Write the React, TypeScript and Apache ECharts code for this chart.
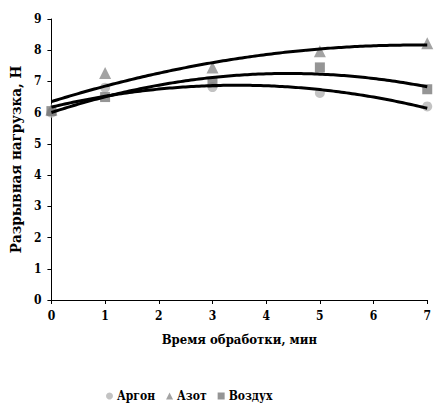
import React, { useEffect, useRef } from "react";
import * as echarts from "echarts";

const times = [0, 1, 3, 5, 7];
const argon = [6.0, 6.8, 6.82, 6.63, 6.2];
const azot = [6.1, 7.27, 7.45, 7.97, 8.22];
const vozduh = [6.05, 6.5, 6.95, 7.45, 6.75];
const seriesNames = ["Аргон", "Азот", "Воздух"];
const seriesColors = ["#b4b4b4", "#8c8c8c", "#7a7a7a"];
const seriesSymbols = ["circle", "triangle", "rect"];

function quadFit(xs: number[], ys: number[]) {
  let s0 = 0, s1 = 0, s2 = 0, s3 = 0, s4 = 0, t0 = 0, t1 = 0, t2 = 0;
  for (let i = 0; i < xs.length; i++) {
    const x = xs[i], y = ys[i];
    s0 += 1; s1 += x; s2 += x * x; s3 += x * x * x; s4 += x * x * x * x;
    t0 += y; t1 += x * y; t2 += x * x * y;
  }
  const M = [
    [s0, s1, s2, t0],
    [s1, s2, s3, t1],
    [s2, s3, s4, t2],
  ];
  for (let i = 0; i < 3; i++) {
    let p = i;
    for (let r = i + 1; r < 3; r++) if (Math.abs(M[r][i]) > Math.abs(M[p][i])) p = r;
    [M[i], M[p]] = [M[p], M[i]];
    for (let r = 0; r < 3; r++) {
      if (r === i) continue;
      const f = M[r][i] / M[i][i];
      for (let c = i; c < 4; c++) M[r][c] -= f * M[i][c];
    }
  }
  return [M[0][3] / M[0][0], M[1][3] / M[1][1], M[2][3] / M[2][2]];
}

function trend(ys: number[]) {
  const [a, b, c] = quadFit(times, ys);
  const pts: number[][] = [];
  for (let i = 0; i <= 140; i++) {
    const x = i * 0.05;
    pts.push([x, a + b * x + c * x * x]);
  }
  return pts;
}

export default function App() {
  const ref = useRef<HTMLDivElement>(null);
  useEffect(() => {
    if (!ref.current) return;
    const chart = echarts.init(ref.current, undefined, { renderer: "svg" });
    const all = [argon, azot, vozduh];
    const font = "DejaVu Serif Condensed, DejaVu Serif";
    const series: any[] = [];
    all.forEach((vals, i) => {
      series.push({
        name: seriesNames[i],
        type: "scatter",
        data: times.map((t, j) => [t, vals[j]]),
        symbol: seriesSymbols[i],
        symbolSize: seriesSymbols[i] === "triangle" ? 12 : 10,
        itemStyle: { color: seriesColors[i] },
        z: 2,
      });
    });
    all.forEach((vals, i) => {
      series.push({
        name: "trend" + i,
        type: "line",
        data: trend(vals),
        showSymbol: false,
        symbol: "none",
        lineStyle: { color: "#000", width: 3 },
        z: 3,
      });
    });
    chart.setOption({
      animation: false,
      backgroundColor: "#fff",
      textStyle: { fontFamily: font },
      grid: { left: 45, right: 4, top: 19, bottom: 107, containLabel: false },
      xAxis: {
        type: "value",
        min: 0,
        max: 7,
        interval: 1,
        name: "Время обработки, мин",
        nameLocation: "middle",
        nameGap: 33,
        nameTextStyle: { fontFamily: font, fontWeight: "bold", fontSize: 13, color: "#000" },
        axisLine: { lineStyle: { color: "#000", width: 1 } },
        axisTick: { show: true, length: 4, lineStyle: { color: "#000" } },
        axisLabel: { fontFamily: font, fontWeight: "bold", fontSize: 12, color: "#000", margin: 10 },
        splitLine: { show: false },
      },
      yAxis: {
        type: "value",
        min: 0,
        max: 9,
        interval: 1,
        name: "Разрывная нагрузка, Н",
        nameLocation: "middle",
        nameGap: 24,
        nameTextStyle: { fontFamily: font, fontWeight: "bold", fontSize: 15, color: "#000" },
        axisLine: { show: true, lineStyle: { color: "#000", width: 1 } },
        axisTick: { show: true, length: 4, lineStyle: { color: "#000" } },
        axisLabel: { fontFamily: font, fontWeight: "bold", fontSize: 12, color: "#000", margin: 10 },
        splitLine: { show: false },
      },
      legend: {
        data: seriesNames.map((n, i) => ({ name: n, icon: seriesSymbols[i] })),
        top: 390,
        left: 106,
        padding: 0,
        itemWidth: 7,
        itemHeight: 7,
        itemGap: 11,
        textStyle: { fontFamily: font, fontWeight: "bold", fontSize: 12, color: "#000", padding: [0, 0, 0, -1] },
      },
      series,
    });
    return () => chart.dispose();
  }, []);
  return (
    <div
      ref={ref}
      style={{ position: "fixed", left: 0, top: 0, width: 434, height: 407 }}
    />
  );
}
